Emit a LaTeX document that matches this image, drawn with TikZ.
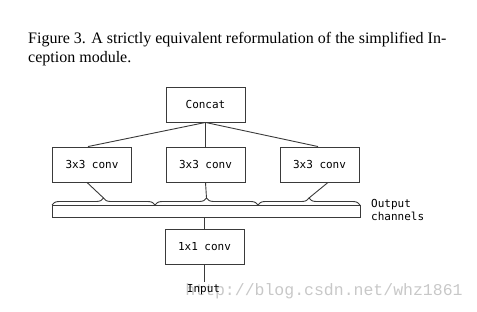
\documentclass[tikz,border=0pt]{standalone}
\usepackage{fontspec}
\setmainfont{Liberation Serif}
\setmonofont{DejaVu Sans Mono}
\newfontfamily\markfont{Liberation Mono}
\usetikzlibrary{decorations.pathreplacing}
\definecolor{edge}{HTML}{3A3A3A}
\definecolor{mark}{HTML}{C8C8C8}

\begin{document}
\begin{tikzpicture}[x=1pt, y=-1pt,
    box/.style={draw=edge, line width=0.9pt, minimum width=79pt, minimum height=35pt, align=center, font=\fontsize{11}{13}\selectfont\ttfamily},
    link/.style={edge, line width=0.9pt},
    chan/.style={edge, line width=0.9pt, decorate, decoration={brace, amplitude=7pt}},
    lbl/.style={font=\fontsize{11}{13}\selectfont\ttfamily, align=left, inner sep=0pt}
]
\useasboundingbox (0,0) rectangle (477,312);

% Caption
\node[anchor=base west, inner sep=0pt, align=left, font=\fontsize{16}{19}\selectfont] (caption) at (28,63) {Figure 3. A strictly equivalent reformulation of the simplified In-\\ception module.};

% Blocks
\node[box] (concat) at (205.5,104.5) {Concat};
\node[box] (conva) at (92,164.5) {3x3 conv};
\node[box] (convb) at (205.5,164.5) {3x3 conv};
\node[box] (convc) at (319.5,164.5) {3x3 conv};
\node[box] (onebyone) at (204.5,247) {1x1 conv};

% Output channels bar with its three groups
\node[draw=edge, line width=0.9pt, minimum width=308pt, minimum height=12pt, inner sep=0pt] (bar) at (206,211) {};
\coordinate (cha) at (52,205);
\coordinate (chb) at (155,205);
\coordinate (chc) at (258,205);
\coordinate (chd) at (360,205);
\draw[chan] (cha) -- coordinate[yshift=7pt] (tipa) (chb);
\draw[chan] (chb) -- coordinate[yshift=7pt] (tipb) (chc);
\draw[chan] (chc) -- coordinate[yshift=7pt] (tipc) (chd);
\node[lbl, anchor=north west] (outlbl) at (371,199) {Output\\channels};

% Watermark
\node[text=mark, font=\fontsize{16.5}{19}\selectfont\markfont, inner sep=0pt] (watermark) at (324,291) {http://blog.csdn.net/whz1861};

\node[lbl, anchor=center, inner sep=3pt] (input) at (203.5,290) {Input};

% Connections
\draw[link] (concat.south) -- ([xshift=-4pt]conva.north);
\draw[link] (concat.south) -- (convb.north);
\draw[link] (concat.south) -- ([xshift=-1.5pt]convc.north);
\draw[link] ([xshift=-5pt]conva.south) -- (tipa);
\draw[link] (convb.south) -- (tipb);
\draw[link] ([xshift=8.5pt]convc.south) -- (tipc);
\draw[link] (bar.south -| onebyone.north) -- (onebyone.north);
\draw[link] (onebyone.south) -- (onebyone.south |- input.north);
\end{tikzpicture}
\end{document}
